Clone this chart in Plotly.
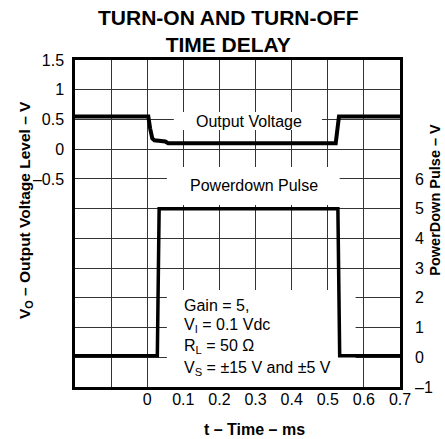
import plotly.graph_objects as go

# ---- data ----
t_output = [-0.2, 0.003, 0.008, 0.014, 0.02, 0.05, 0.058, 0.522, 0.526, 0.531, 0.7]
v_output = [0.55, 0.55, 0.35, 0.18, 0.15, 0.13, 0.10, 0.10, 0.30, 0.55, 0.55]

t_pulse = [-0.2, 0.028, 0.033, 0.528, 0.533, 0.7]
v_pulse = [0.05, 0.05, 5.0, 5.0, 0.05, 0.05]

x_tick_vals = [0.0, 0.1, 0.2, 0.3, 0.4, 0.5, 0.6, 0.7]
x_tick_text = ["0", "0.1", "0.2", "0.3", "0.4", "0.5", "0.6", "0.7"]

y_tick_vals = [-0.5, 0, 0.5, 1, 1.5]
y_tick_text = ["\u20130.5", "0", "0.5", "1", "1.5"]

y2_tick_vals = [-1, 0, 1, 2, 3, 4, 5, 6]
y2_tick_text = ["\u20131", "0", "1", "2", "3", "4", "5", "6"]

gain_lines = ["Gain = 5,", "V<sub>I</sub> = 0.1 Vdc", "R<sub>L</sub> = 50 \u03a9",
              "V<sub>S</sub> = \u00b115 V and \u00b15 V"]

FONT = "Liberation Sans, Arial, Helvetica, sans-serif"
GRID = "#333333"

fig = go.Figure()
fig.add_trace(go.Scatter(x=t_output, y=v_output, mode="lines",
                         line=dict(color="black", width=4), yaxis="y",
                         hoverinfo="skip"))
fig.add_trace(go.Scatter(x=t_pulse, y=v_pulse, mode="lines",
                         line=dict(color="black", width=3.5), yaxis="y2",
                         hoverinfo="skip"))

# white label backgrounds (between gridlines and traces)
boxes = [
    (0.0736, 0.484, 0.323, 0.625),
    (0.0544, 0.533, -0.939, -0.30),
    (0.0544, 0.577, -4.0, -2.369),
]
shapes = [dict(type="rect", xref="x", yref="y", x0=a, x1=b, y0=c, y1=d,
               fillcolor="white", line=dict(width=0), layer="between")
          for a, b, c, d in boxes]

ann = []
ann.append(dict(text="Output Voltage", x=0.2815, y=0.461, xref="x", yref="y",
                xanchor="center", yanchor="middle",
                showarrow=False, font=dict(family=FONT, size=16, color="black")))
ann.append(dict(text="Powerdown Pulse", x=0.295, y=-0.603, xref="x", yref="y",
                xanchor="center", yanchor="middle",
                showarrow=False, font=dict(family=FONT, size=16, color="black")))
gain_y = [-2.624, -2.961, -3.326, -3.69]
for txt, yy in zip(gain_lines, gain_y):
    ann.append(dict(text=txt, x=0.0963, y=yy, xref="x", yref="y",
                    xanchor="left", yanchor="middle",
                    showarrow=False, font=dict(family=FONT, size=16, color="black")))

ann.append(dict(text="<b>TURN-ON AND TURN-OFF<br>TIME DELAY</b>", x=0.471, y=1.09,
                xref="paper", yref="paper", showarrow=False,
                xanchor="center", yanchor="middle",
                font=dict(family=FONT, size=21, color="black")))
ann.append(dict(text="<b>t \u2013 Time \u2013 ms</b>", x=0.553, y=-0.131,
                xref="paper", yref="paper", showarrow=False,
                xanchor="center", yanchor="middle",
                font=dict(family=FONT, size=16, color="black")))
ann.append(dict(text="<b>V<sub>O</sub> \u2013 Output Voltage Level \u2013 V</b>", x=-0.152, y=0.54,
                xref="paper", yref="paper", showarrow=False, textangle=-90,
                xanchor="center", yanchor="middle",
                font=dict(family=FONT, size=15.5, color="black")))
ann.append(dict(text="<b>PowerDown Pulse \u2013 V</b>", x=1.107, y=0.572,
                xref="paper", yref="paper", showarrow=False, textangle=-90,
                xanchor="center", yanchor="middle",
                font=dict(family=FONT, size=14.5, color="black")))

fig.update_layout(
    width=445, height=439,
    margin=dict(l=75, r=41, t=60, b=52),
    paper_bgcolor="white", plot_bgcolor="white",
    showlegend=False,
    font=dict(family=FONT, size=16, color="black"),
    xaxis=dict(range=[-0.2, 0.7], tickvals=x_tick_vals, ticktext=x_tick_text,
               showgrid=True, gridcolor=GRID, gridwidth=1, zeroline=False,
               minor=dict(dtick=0.1, tick0=-0.2, showgrid=True, gridcolor=GRID,
                          gridwidth=1, ticks=""),
               showline=True, linecolor="black", linewidth=2.5, mirror=True,
               ticks="", tickfont=dict(size=16), ticklabelstandoff=-4),
    yaxis=dict(range=[-4, 1.5], tickvals=y_tick_vals, ticktext=y_tick_text,
               showgrid=True, gridcolor=GRID, gridwidth=1, zeroline=False,
               minor=dict(dtick=0.5, tick0=0, showgrid=True, gridcolor=GRID,
                          gridwidth=1, ticks=""),
               showline=True, linecolor="black", linewidth=2.5, mirror=True,
               ticks="", tickfont=dict(size=16), ticklabelstandoff=5),
    yaxis2=dict(range=[-1, 10], tickvals=y2_tick_vals, ticktext=y2_tick_text,
                overlaying="y", side="right", showgrid=False, zeroline=False,
                showline=False, ticks="", tickfont=dict(size=16),
                ticklabelstandoff=14),
    shapes=shapes,
    annotations=ann,
)

fig.write_html("out.html", config={"displayModeBar": False},
               post_script="document.body.style.margin='0';")
